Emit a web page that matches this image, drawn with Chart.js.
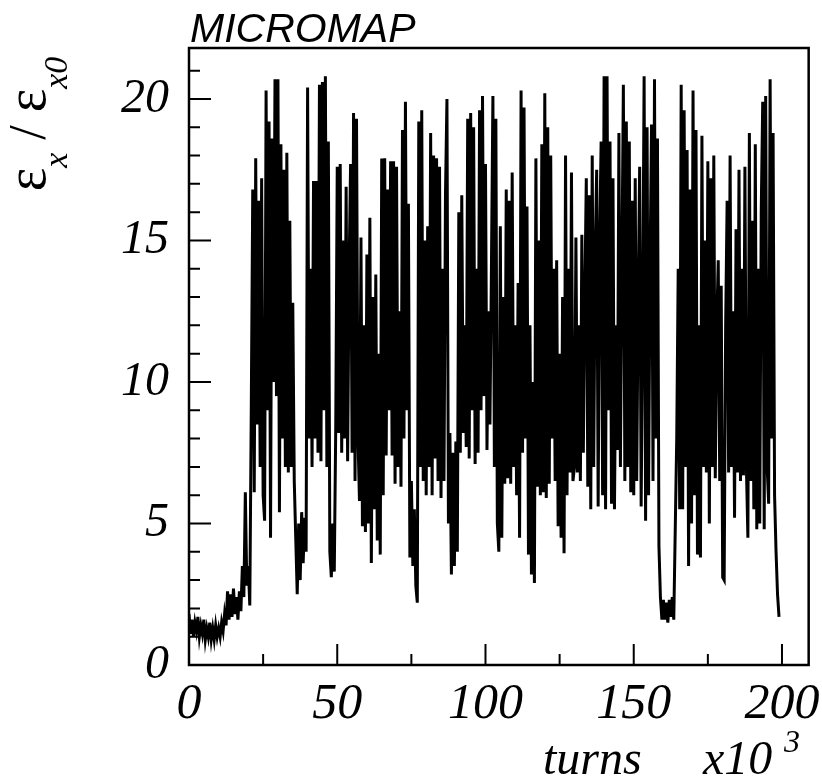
<!DOCTYPE html>
<html>
<head>
<meta charset="utf-8">
<script src="https://cdn.jsdelivr.net/npm/chart.js@4.4.0/dist/chart.umd.min.js"></script>
<style>
  html, body { margin: 0; padding: 0; background: #fff; }
</style>
</head>
<body>
<canvas id="grafico" width="822" height="784"></canvas>
<script>
// muestreo cada 0.5 x10^3 vueltas, empezando en 0
const pasoTurns = 0.5;

// emitancia relativa eps_x / eps_x0 (una fila = 10 x10^3 vueltas)
const emitancia = [
  1.8, 1.1, 1.6, 1.0, 1.5, 1.2, 1.7, 1.0, 1.4, 1.1, 1.6, 0.9, 1.3, 1.0, 1.5, 0.9, 1.3, 0.9, 1.4, 1.0,
  1.3, 1.0, 1.5, 1.2, 1.8, 1.4, 2.6, 1.6, 2.5, 1.7, 2.7, 1.8, 2.4, 1.6, 2.6, 1.9, 3.5, 2.4, 6.1, 2.8,
  3.5, 2.1, 9.0, 16.8, 6.1, 17.9, 8.5, 16.4, 7.0, 17.2, 6.0, 5.1, 20.3, 9.0, 19.2, 4.5, 18.6, 10.0, 20.7, 9.5,
  20.7, 5.4, 18.4, 8.0, 17.5, 7.0, 18.1, 6.8, 15.7, 7.0, 12.8, 6.5, 4.5, 2.5, 5.0, 3.0, 5.4, 3.6, 5.2, 4.0,
  20.4, 8.0, 14.0, 7.0, 17.1, 8.0, 17.1, 7.5, 20.5, 7.2, 20.6, 9.0, 20.8, 7.0, 18.5, 4.0, 3.1, 5.0, 3.3, 8.5,
  17.6, 8.2, 17.7, 7.5, 15.0, 8.0, 16.9, 7.2, 14.0, 17.7, 7.5, 19.5, 6.5, 19.3, 8.0, 5.8, 15.1, 4.9, 12.0, 4.7,
  14.5, 5.0, 15.8, 3.6, 13.0, 5.5, 13.8, 4.4, 11.0, 3.9, 17.9, 6.0, 17.9, 7.4, 16.8, 9.0, 17.8, 7.4, 17.8, 6.4,
  17.6, 7.0, 12.5, 6.3, 18.9, 8.0, 19.9, 9.0, 16.3, 3.8, 6.5, 3.5, 5.5, 2.8, 2.2, 19.2, 7.0, 19.6, 6.5, 15.0,
  6.0, 15.5, 7.0, 18.8, 6.0, 18.0, 7.3, 17.9, 6.5, 17.6, 5.9, 14.0, 6.5, 16.6, 20.0, 5.0, 8.2, 3.2, 7.5, 3.5,
  7.9, 4.0, 16.0, 7.5, 16.6, 8.2, 12.0, 7.7, 19.3, 7.3, 19.5, 9.0, 19.0, 7.1, 14.0, 7.5, 19.6, 9.0, 20.1, 9.5,
  17.7, 7.6, 12.5, 8.5, 14.0, 20.1, 7.0, 19.3, 5.0, 4.0, 15.5, 4.5, 13.0, 6.4, 16.8, 6.6, 16.4, 6.4, 17.4, 7.0,
  12.0, 6.0, 13.5, 4.5, 20.3, 7.5, 19.7, 8.0, 16.2, 3.9, 12.0, 3.2, 10.0, 2.9, 17.9, 6.3, 15.0, 6.0, 18.4, 6.1,
  20.2, 5.9, 19.0, 6.4, 18.0, 8.0, 14.0, 6.5, 14.3, 4.9, 11.0, 4.5, 13.0, 3.95, 18.0, 6.0, 14.0, 6.8, 17.4, 6.5,
  7.0, 15.1, 6.8, 12.0, 6.5, 15.2, 7.5, 13.0, 17.2, 6.3, 16.6, 5.5, 18.0, 7.0, 14.5, 17.5, 5.6, 15.0, 18.5, 6.0,
  20.8, 5.5, 20.8, 9.0, 18.5, 5.7, 17.2, 5.5, 12.0, 7.6, 18.8, 7.0, 14.0, 20.5, 6.5, 19.2, 7.0, 18.5, 6.1, 16.4,
  6.0, 17.2, 6.5, 13.0, 17.6, 5.6, 12.0, 20.8, 5.1, 19.0, 6.0, 14.0, 19.1, 6.5, 20.7, 8.0, 18.6, 4.2, 2.4, 1.6,
  2.3, 1.6, 2.2, 1.5, 2.3, 1.7, 2.4, 1.6, 4.8, 8.0, 14.0, 5.5, 20.5, 5.5, 19.6, 7.0, 18.2, 3.5, 16.8, 5.0,
  20.3, 6.0, 18.9, 3.9, 12.0, 3.8, 18.7, 7.0, 15.0, 6.8, 17.8, 5.0, 17.2, 7.0, 18.0, 6.6, 12.0, 14.3, 6.5, 13.4,
  3.1, 3.0, 12.0, 16.4, 6.8, 18.0, 7.0, 12.5, 5.2, 15.4, 6.8, 17.5, 6.5, 14.0, 6.7, 17.6, 7.0, 4.5, 18.8, 6.5,
  15.7, 5.5, 18.4, 4.8, 14.0, 5.0, 16.0, 19.9, 4.8, 20.1, 7.0, 5.7, 20.7, 8.0, 18.8, 6.0, 4.0, 2.5, 1.7
];

const ticksX = [0, 50, 100, 150, 200];
const ticksXMenores = [25, 75, 125, 175];
const ticksY = [0, 5, 10, 15, 20];
const ticksYMenores = [1, 2, 3, 4, 6, 7, 8, 9, 11, 12, 13, 14, 16, 17, 18, 19, 21];

const puntos = emitancia.map((v, i) => ({ x: i * pasoTurns, y: v }));

const serif = '"Liberation Serif", "Times New Roman", serif';

// marco y marcas hacia dentro, como en el original
const marco = {
  id: 'marco',
  afterDatasetsDraw(chart) {
    const { ctx, chartArea: a, scales: { x, y } } = chart;
    ctx.save();
    ctx.strokeStyle = '#000';
    ctx.lineWidth = 2;
    ctx.beginPath();
    ticksY.forEach(v => {
      const py = y.getPixelForValue(v);
      ctx.moveTo(a.left, py); ctx.lineTo(a.left + 22, py);
    });
    ticksYMenores.forEach(v => {
      const py = y.getPixelForValue(v);
      ctx.moveTo(a.left, py); ctx.lineTo(a.left + 11, py);
    });
    ticksX.forEach(v => {
      const px = x.getPixelForValue(v);
      ctx.moveTo(px, a.bottom); ctx.lineTo(px, a.bottom - 21);
    });
    ticksXMenores.forEach(v => {
      const px = x.getPixelForValue(v);
      ctx.moveTo(px, a.bottom); ctx.lineTo(px, a.bottom - 11);
    });
    ctx.stroke();
    ctx.lineWidth = 2.5;
    ctx.strokeRect(a.left, a.top, a.right - a.left, a.bottom - a.top);
    ctx.restore();
  },
  afterDraw(chart) {
    const ctx = chart.ctx;
    ctx.save();
    ctx.fillStyle = '#000';
    ctx.textBaseline = 'alphabetic';

    // titulo
    ctx.font = 'italic 41px "Liberation Sans", Arial, sans-serif';
    ctx.fillText('MICROMAP', 190, 42);

    // eje x
    ctx.font = 'italic 48px ' + serif;
    ctx.fillText('turns', 543, 774);
    ctx.fillText('x10', 703, 774);
    ctx.font = 'italic 32px ' + serif;
    ctx.fillText('3', 784, 752);

    // eje y rotado
    const partes = [
      { t: '\u03b5', f: '56px ' + serif, dy: 0 },
      { t: 'x', f: 'italic 34px ' + serif, dy: 22 },
      { t: ' / ', f: '52px ' + serif, dy: 0 },
      { t: '\u03b5', f: '56px ' + serif, dy: 0 },
      { t: 'x0', f: 'italic 34px ' + serif, dy: 22 }
    ];
    let total = 0;
    partes.forEach(p => { ctx.font = p.f; p.w = ctx.measureText(p.t).width; total += p.w; });
    ctx.translate(45, 124);
    ctx.rotate(-Math.PI / 2);
    let cx = -total / 2;
    partes.forEach(p => {
      ctx.font = p.f;
      ctx.fillText(p.t, cx, p.dy);
      cx += p.w;
    });
    ctx.restore();
  }
};

new Chart(document.getElementById('grafico'), {
  type: 'line',
  data: {
    datasets: [{
      data: puntos,
      borderColor: '#000',
      borderWidth: 3,
      pointRadius: 0,
      tension: 0,
      fill: false
    }]
  },
  options: {
    responsive: false,
    animation: false,
    devicePixelRatio: 1,
    layout: { padding: { top: 48, right: 12, left: 0, bottom: 0 } },
    plugins: { legend: { display: false }, tooltip: { enabled: false } },
    scales: {
      x: {
        type: 'linear',
        min: 0,
        max: 209,
        grid: { display: false },
        border: { display: false },
        afterBuildTicks: s => { s.ticks = ticksX.map(v => ({ value: v })); },
        afterFit: s => { s.height = 119; },
        ticks: {
          color: '#000',
          padding: 2,
          maxRotation: 0,
          font: { family: serif, style: 'italic', size: 50 }
        }
      },
      y: {
        min: 0,
        max: 21.8,
        grid: { display: false },
        border: { display: false },
        afterBuildTicks: s => { s.ticks = ticksY.map(v => ({ value: v })); },
        afterFit: s => { s.width = 189; },
        ticks: {
          color: '#000',
          padding: 12,
          font: { family: serif, style: 'italic', size: 48 }
        }
      }
    }
  },
  plugins: [marco]
});
</script>
</body>
</html>
